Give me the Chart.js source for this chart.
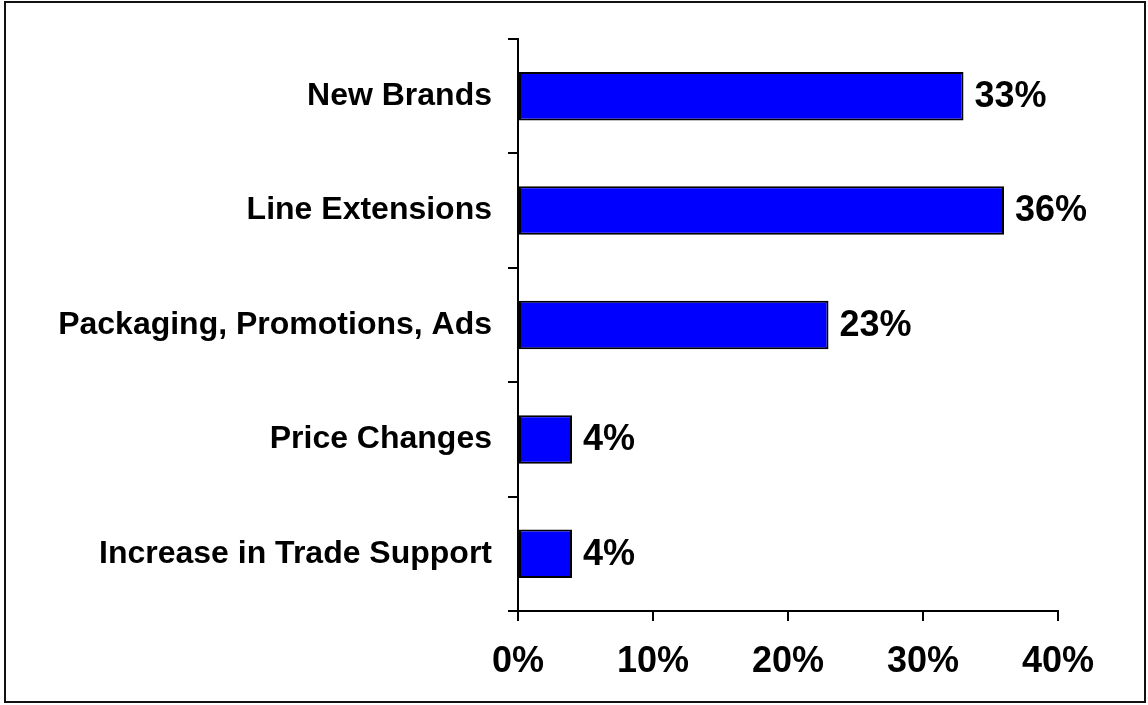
<!DOCTYPE html>
<html>
<head>
<meta charset="utf-8">
<style>
  html, body { margin: 0; padding: 0; background: #ffffff; }
  #wrap { position: relative; width: 1148px; height: 705px; }
</style>
<script src="https://cdn.jsdelivr.net/npm/chart.js@4.4.1/dist/chart.umd.min.js"></script>
</head>
<body>
<div id="wrap"><canvas id="sourcesChart"></canvas></div>
<script>
// Share of growth by source (percent)
const categories = [
    'New Brands',
    'Line Extensions',
    'Packaging, Promotions, Ads',
    'Price Changes',
    'Increase in Trade Support'
];
const shares = [33, 36, 23, 4, 4];
const tickValues = [0, 10, 20, 30, 40];

const FONT = '"Liberation Sans", Arial, Helvetica, sans-serif';

// 2px frame round the whole picture
const framePlugin = {
    id: 'frame',
    afterDraw(chart) {
        const ctx = chart.ctx;
        ctx.save();
        ctx.strokeStyle = '#111111';
        ctx.lineWidth = 2;
        ctx.strokeRect(5, 2, chart.width - 8, chart.height - 5);
        ctx.restore();
    }
};

// percent label just past the end of each bar
const valueLabels = {
    id: 'valueLabels',
    afterDatasetsDraw(chart) {
        const ctx = chart.ctx;
        const size = 36;
        const meta = chart.getDatasetMeta(0);
        ctx.save();
        ctx.font = 'bold ' + size + 'px ' + FONT;
        ctx.fillStyle = '#000000';
        ctx.textAlign = 'left';
        ctx.textBaseline = 'alphabetic';
        meta.data.forEach((bar, i) => {
            const y = bar.y + 0.716 * size / 2 - 2;
            ctx.fillText(shares[i] + '%', bar.x + 11, y);
        });
        ctx.restore();
    }
};

new Chart(document.getElementById('sourcesChart'), {
    type: 'bar',
    data: {
        labels: categories,
        datasets: [{
            data: shares,
            backgroundColor: '#0000ff',
            borderColor: '#000000',
            borderWidth: 2,
            borderSkipped: false,
            categoryPercentage: 1,
            barPercentage: 0.424
        }]
    },
    options: {
        indexAxis: 'y',
        responsive: true,
        maintainAspectRatio: false,
        animation: false,
        layout: { padding: { top: 39, right: 90, bottom: 0, left: 0 } },
        plugins: {
            legend: { display: false },
            tooltip: { enabled: false }
        },
        scales: {
            x: {
                min: 0,
                max: 40,
                afterBuildTicks(scale) {
                    scale.ticks = tickValues.map(v => ({ value: v }));
                },
                afterFit(scale) { scale.height = 94; },
                grid: {
                    drawOnChartArea: false,
                    drawTicks: true,
                    tickLength: 10,
                    color: '#000000',
                    lineWidth: 2
                },
                border: { display: true, color: '#000000', width: 2 },
                ticks: {
                    padding: 19,
                    color: '#000000',
                    maxRotation: 0,
                    font: { family: FONT, size: 36, weight: 'bold' },
                    callback: v => v + '%'
                }
            },
            y: {
                afterFit(scale) { scale.width = 518; },
                grid: {
                    offset: true,
                    drawOnChartArea: false,
                    drawTicks: true,
                    tickLength: 10,
                    color: '#000000',
                    lineWidth: 2
                },
                border: { display: true, color: '#000000', width: 2 },
                ticks: {
                    padding: 16,
                    color: '#000000',
                    font: { family: FONT, size: 32, weight: 'bold' }
                }
            }
        }
    },
    plugins: [framePlugin, valueLabels]
});
</script>
</body>
</html>
